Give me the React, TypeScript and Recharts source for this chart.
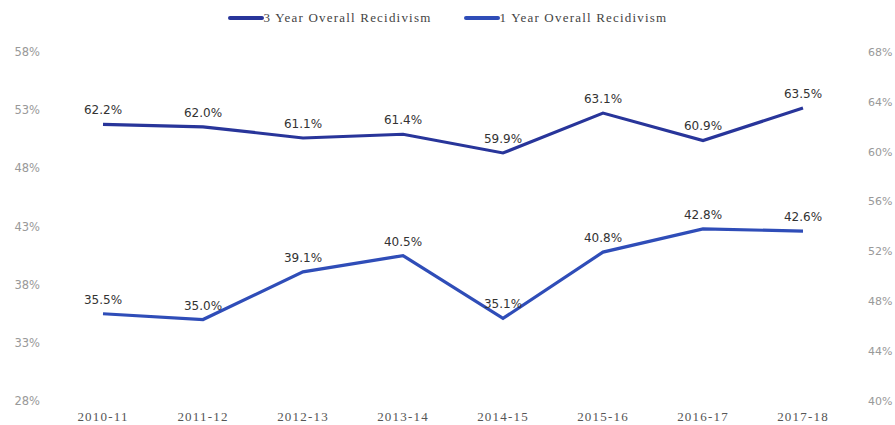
import React from "react";
import { LineChart, Line, XAxis, YAxis, Legend, LabelList } from "recharts";

const categories = ["2010-11", "2011-12", "2012-13", "2013-14", "2014-15", "2015-16", "2016-17", "2017-18"];
const threeYear = [62.2, 62.0, 61.1, 61.4, 59.9, 63.1, 60.9, 63.5];
const oneYear = [35.5, 35.0, 39.1, 40.5, 35.1, 40.8, 42.8, 42.6];
const leftTicks = [28, 33, 38, 43, 48, 53, 58];
const rightTicks = [40, 44, 48, 52, 56, 60, 64, 68];

const data = categories.map((c, i) => ({ name: c, threeYear: threeYear[i], oneYear: oneYear[i] }));

const NAVY = "#28359a";
const BLUE = "#2f4db8";

const legendItems = [
  { label: "3 Year Overall Recidivism", color: NAVY },
  { label: "1 Year Overall Recidivism", color: BLUE },
];

const LegendContent = () => (
  <div style={{ height: 52, display: "flex", justifyContent: "center", alignItems: "flex-start", paddingTop: 10, boxSizing: "border-box" }}>
    {legendItems.map((it, i) => (
      <div key={i} style={{ display: "flex", alignItems: "center", marginLeft: i === 0 ? 0 : 32 }}>
        <div style={{ width: 36, height: 4, background: it.color, borderRadius: 2 }} />
        <span style={{ fontFamily: "Liberation Serif", fontSize: 13, color: "#444", letterSpacing: 1.2 }}>{it.label}</span>
      </div>
    ))}
  </div>
);

const fmt = (v: number) => `${v.toFixed(1)}%`;

export default function App() {
  return (
    <div>
      <style>{"body{margin:0}"}</style>
      <LineChart width={895} height={425} data={data} margin={{ top: 0, right: 0, left: 0, bottom: 0 }}>
        <Legend verticalAlign="top" content={<LegendContent />} />
        <XAxis
          dataKey="name"
          axisLine={false}
          tickLine={false}
          height={24}
          padding={{ left: 50, right: 50 }}
          tickMargin={5}
          tick={{ fontFamily: "Liberation Serif", fontSize: 13, fill: "#555", letterSpacing: 1.2 }}
        />
        <YAxis
          yAxisId="left"
          orientation="left"
          domain={[28, 58]}
          ticks={leftTicks}
          width={53}
          axisLine={false}
          tickLine={false}
          tickMargin={7}
          tickFormatter={(v: number) => `${v}%`}
          tick={{ fontFamily: "DejaVu Sans", fontSize: 11.5, fill: "#999" }}
        />
        <YAxis
          yAxisId="right"
          orientation="right"
          domain={[40, 68]}
          ticks={rightTicks}
          width={42}
          axisLine={false}
          tickLine={false}
          tickMargin={9}
          tickFormatter={(v: number) => `${v}%`}
          tick={{ fontFamily: "DejaVu Sans", fontSize: 11, fill: "#999" }}
        />
        <Line
          yAxisId="right"
          type="linear"
          dataKey="threeYear"
          stroke={NAVY}
          strokeWidth={3.2}
          dot={false}
          isAnimationActive={false}
        >
          <LabelList dataKey="threeYear" position="top" offset={10} formatter={fmt} style={{ fontFamily: "DejaVu Sans", fontSize: 12, fill: "#333" }} />
        </Line>
        <Line
          yAxisId="left"
          type="linear"
          dataKey="oneYear"
          stroke={BLUE}
          strokeWidth={3.2}
          dot={false}
          isAnimationActive={false}
        >
          <LabelList dataKey="oneYear" position="top" offset={10} formatter={fmt} style={{ fontFamily: "DejaVu Sans", fontSize: 12, fill: "#333" }} />
        </Line>
      </LineChart>
    </div>
  );
}
